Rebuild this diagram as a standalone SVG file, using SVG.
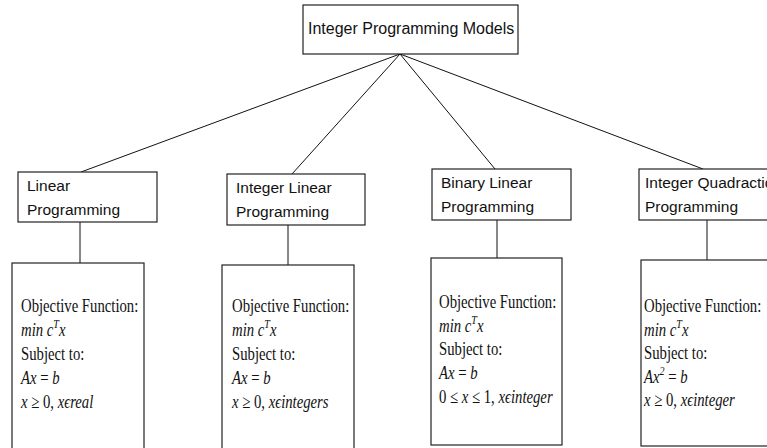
<svg xmlns="http://www.w3.org/2000/svg" width="767" height="448" viewBox="0 0 767 448">
  <style>
    .box { fill: #fff; stroke: #222; stroke-width: 1.2; }
    .edge { stroke: #111; stroke-width: 1; fill: none; }
    .label { font-family: "Liberation Sans", Arial, sans-serif; font-size: 15.5px; fill: #111; }
    .title { font-family: "Liberation Sans", Arial, sans-serif; font-size: 16px; fill: #111; }
    .math { font-family: "Liberation Serif", "DejaVu Serif", serif; font-size: 19px; fill: #111; }
    .it { font-style: italic; }
    .sup { font-size: 13px; font-style: italic; }
  </style>

  <!-- connectors -->
  <g id="connectors">
    <line class="edge" x1="400" y1="54" x2="81" y2="172"/>
    <line class="edge" x1="400" y1="54" x2="292" y2="174"/>
    <line class="edge" x1="400" y1="54" x2="495" y2="169"/>
    <line class="edge" x1="400" y1="54" x2="703" y2="169"/>
    <line class="edge" x1="80" y1="222" x2="80" y2="263"/>
    <line class="edge" x1="288" y1="225" x2="288" y2="265"/>
    <line class="edge" x1="497" y1="220" x2="497" y2="258"/>
    <line class="edge" x1="707" y1="220" x2="707" y2="260"/>
  </g>

  <!-- root -->
  <g id="root">
    <rect class="box" x="303" y="5" width="215" height="49"/>
    <text class="title" x="308" y="34">Integer Programming Models</text>
  </g>

  <!-- model categories -->
  <g id="linear">
    <rect class="box" x="18" y="172" width="139" height="50"/>
    <text class="label" x="27" y="191">Linear</text>
    <text class="label" x="27" y="215">Programming</text>
  </g>
  <g id="integer-linear">
    <rect class="box" x="227" y="174" width="138" height="51"/>
    <text class="label" x="236" y="193">Integer Linear</text>
    <text class="label" x="236" y="217">Programming</text>
  </g>
  <g id="binary-linear">
    <rect class="box" x="432" y="169" width="139" height="51"/>
    <text class="label" x="441" y="188">Binary Linear</text>
    <text class="label" x="441" y="212">Programming</text>
  </g>
  <g id="integer-quadratic">
    <rect class="box" x="639" y="169" width="150" height="51"/>
    <text class="label" x="645" y="188">Integer Quadraction</text>
    <text class="label" x="645" y="212">Programming</text>
  </g>

  <!-- formulations -->
  <g id="linear-model">
    <rect class="box" x="12" y="263" width="132" height="200"/>
    <g transform="translate(21,0) scale(0.775,1)">
      <text class="math" x="0" y="312">Objective Function:</text>
      <text class="math" x="0" y="336"><tspan class="it">min c</tspan><tspan class="sup" dy="-8">T</tspan><tspan class="it" dy="8">x</tspan></text>
      <text class="math" x="0" y="360">Subject to:</text>
      <text class="math" x="0" y="384"><tspan class="it">Ax</tspan> = <tspan class="it">b</tspan></text>
      <text class="math" x="0" y="408"><tspan class="it">x</tspan> ≥ 0, <tspan class="it">xϵreal</tspan></text>
    </g>
  </g>
  <g id="integer-linear-model">
    <rect class="box" x="222" y="265" width="132" height="200"/>
    <g transform="translate(232,0) scale(0.775,1)">
      <text class="math" x="0" y="312">Objective Function:</text>
      <text class="math" x="0" y="336"><tspan class="it">min c</tspan><tspan class="sup" dy="-8">T</tspan><tspan class="it" dy="8">x</tspan></text>
      <text class="math" x="0" y="360">Subject to:</text>
      <text class="math" x="0" y="384"><tspan class="it">Ax</tspan> = <tspan class="it">b</tspan></text>
      <text class="math" x="0" y="408"><tspan class="it">x</tspan> ≥ 0, <tspan class="it">xϵintegers</tspan></text>
    </g>
  </g>
  <g id="binary-linear-model">
    <rect class="box" x="431" y="258" width="131" height="187"/>
    <g transform="translate(439,0) scale(0.775,1)">
      <text class="math" x="0" y="308">Objective Function:</text>
      <text class="math" x="0" y="332"><tspan class="it">min c</tspan><tspan class="sup" dy="-8">T</tspan><tspan class="it" dy="8">x</tspan></text>
      <text class="math" x="0" y="355">Subject to:</text>
      <text class="math" x="0" y="379"><tspan class="it">Ax</tspan> = <tspan class="it">b</tspan></text>
      <text class="math" x="0" y="403">0 ≤ <tspan class="it">x</tspan> ≤ 1, <tspan class="it">xϵinteger</tspan></text>
    </g>
  </g>
  <g id="integer-quadratic-model">
    <rect class="box" x="641" y="260" width="150" height="186"/>
    <g transform="translate(644,0) scale(0.775,1)">
      <text class="math" x="0" y="312">Objective Function:</text>
      <text class="math" x="0" y="336"><tspan class="it">min c</tspan><tspan class="sup" dy="-8">T</tspan><tspan class="it" dy="8">x</tspan></text>
      <text class="math" x="0" y="359">Subject to:</text>
      <text class="math" x="0" y="383"><tspan class="it">Ax</tspan><tspan class="sup" dy="-8">2</tspan><tspan dy="8"> = </tspan><tspan class="it">b</tspan></text>
      <text class="math" x="0" y="406"><tspan class="it">x</tspan> ≥ 0, <tspan class="it">xϵinteger</tspan></text>
    </g>
  </g>
</svg>
